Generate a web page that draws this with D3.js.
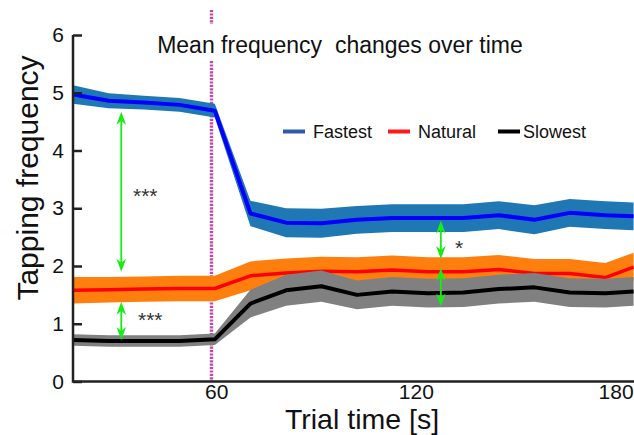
<!DOCTYPE html>
<html>
<head>
<meta charset="utf-8">
<script src="https://cdn.jsdelivr.net/npm/d3@7"></script>
<style>
  html, body { margin: 0; padding: 0; background: #fff; }
  svg { display: block; font-family: "Liberation Sans", Arial, sans-serif; }
</style>
</head>
<body>
<svg id="chart" width="634" height="435"></svg>
<script>
// Trial time of each averaging window [s]
const times = [17, 27.7, 38.3, 49, 59.6, 70.3, 81, 91.6, 102.3, 112.9, 123.6, 134.3, 144.9, 155.6, 166.2, 176.9, 185.4];

// Mean tapping frequency and its error band per condition
const fastestMean = [4.97, 4.86, 4.83, 4.79, 4.69, 2.91, 2.75, 2.74, 2.80, 2.83, 2.83, 2.83, 2.88, 2.80, 2.92, 2.88, 2.86];
const fastestErr  = [0.16, 0.13, 0.12, 0.12, 0.12, 0.22, 0.25, 0.25, 0.24, 0.24, 0.24, 0.24, 0.24, 0.25, 0.24, 0.24, 0.24];
const naturalMean = [1.58, 1.59, 1.60, 1.61, 1.61, 1.83, 1.88, 1.91, 1.90, 1.93, 1.90, 1.90, 1.94, 1.87, 1.87, 1.80, 1.98];
const naturalErr  = [0.23, 0.22, 0.22, 0.22, 0.22, 0.25, 0.25, 0.25, 0.25, 0.25, 0.25, 0.25, 0.25, 0.25, 0.25, 0.25, 0.25];
const slowestMean = [0.72, 0.70, 0.70, 0.70, 0.73, 1.35, 1.58, 1.65, 1.50, 1.56, 1.53, 1.54, 1.60, 1.63, 1.54, 1.53, 1.56];
const slowestErr  = [0.10, 0.10, 0.10, 0.10, 0.10, 0.24, 0.27, 0.27, 0.25, 0.25, 0.25, 0.25, 0.25, 0.25, 0.25, 0.25, 0.25];

const seriesNames = ["Fastest", "Natural", "Slowest"];
const yTicks = [0, 1, 2, 3, 4, 5, 6];
const xTicks = [60, 120, 180];
const switchTime = 58.6;
const titleText = "Mean frequency  changes over time";

// Significance brackets: time, from value, to value, label
const sigTimes  = [31.5, 31.5, 127.5, 127.5];
const sigFrom   = [4.67, 1.38, 2.79, 1.96];
const sigTo     = [1.90, 0.72, 2.12, 1.30];
const sigLabels = ["***", "***", "*", ""];

const svg = d3.select("#chart");
const x = d3.scaleLinear().domain([17, 185.4]).range([73, 633.6]);
const y = d3.scaleLinear().domain([0, 6]).range([381.5, 35]);

const styles = {
  Fastest: { band: "#1f77b4", line: "#0000ff", width: 4, legend: "#2a5caa" },
  Natural: { band: "#ff7f0e", line: "#ff0000", width: 3.5, legend: "#ff1a1a" },
  Slowest: { band: "#808080", line: "#000000", width: 4, legend: "#000000" }
};

const table = seriesNames.map((name, k) => {
  const m = [fastestMean, naturalMean, slowestMean][k];
  const e = [fastestErr, naturalErr, slowestErr][k];
  return { name, rows: times.map((t, i) => ({ t, m: m[i], e: e[i] })) };
});

svg.append("defs").append("clipPath").attr("id", "plotClip")
  .append("rect").attr("x", 73).attr("y", 0).attr("width", 561).attr("height", 382);

// Time of the pace change
svg.append("line")
  .attr("x1", x(switchTime)).attr("x2", x(switchTime))
  .attr("y1", 10).attr("y2", y(0))
  .attr("stroke", "#c04aa5").attr("stroke-width", 3.4)
  .attr("stroke-dasharray", "2.2,1.2");

const plot = svg.append("g").attr("clip-path", "url(#plotClip)");
const area = d3.area().x(d => x(d.t)).y0(d => y(d.m - d.e)).y1(d => y(d.m + d.e));
const line = d3.line().x(d => x(d.t)).y(d => y(d.m));

table.forEach(s => {
  const st = styles[s.name];
  plot.append("path").datum(s.rows).attr("d", area).attr("fill", st.band);
  plot.append("path").datum(s.rows).attr("d", line)
    .attr("fill", "none").attr("stroke", st.line).attr("stroke-width", st.width)
    .attr("stroke-linejoin", "round");
});

// Axes
const yAxis = d3.axisLeft(y).tickValues(yTicks).tickFormat(d3.format("d"))
  .tickSizeInner(-9).tickSizeOuter(0).tickPadding(9);
const gy = svg.append("g").attr("transform", "translate(73,0)").call(yAxis);
const xAxis = d3.axisBottom(x).tickValues(xTicks).tickFormat(d3.format("d"))
  .tickSizeInner(0).tickSizeOuter(0).tickPadding(3);
const gx = svg.append("g").attr("transform", `translate(0,${y(0)})`).call(xAxis);
[gx, gy].forEach(g => {
  g.select(".domain").attr("stroke", "#222").attr("stroke-width", 2.5);
  g.selectAll(".tick line").attr("stroke", "#222").attr("stroke-width", 2.5);
  g.selectAll(".tick text").attr("fill", "#111").style("font-size", "21px");
});
gx.select(".domain").attr("d", `M73,0H634`);
gy.select(".domain").attr("d", `M0,${y(6)}V${y(0) + 1.2}`);

// Title with a white backing box
svg.append("rect").attr("x", 150).attr("y", 24).attr("width", 380).attr("height", 37).attr("fill", "#fff");
svg.append("text").attr("x", 340).attr("y", 53).attr("text-anchor", "middle")
  .style("font-size", "23px").style("white-space", "pre").attr("fill", "#111")
  .text(titleText);

// Axis titles
svg.append("text").attr("x", 362).attr("y", 429).attr("text-anchor", "middle")
  .style("font-size", "28.5px").attr("fill", "#111").text("Trial time [s]");
svg.append("text").attr("transform", "translate(38,178) rotate(-90)").attr("text-anchor", "middle")
  .style("font-size", "30px").attr("fill", "#111").text("Tapping frequency");

// Legend
const legendX = [283, 388, 498];
const legend = svg.append("g");
seriesNames.forEach((name, i) => {
  legend.append("line").attr("x1", legendX[i]).attr("x2", legendX[i] + 22)
    .attr("y1", 131.5).attr("y2", 131.5)
    .attr("stroke", styles[name].legend).attr("stroke-width", 4);
  legend.append("text").attr("x", legendX[i] + (i === 2 ? 25 : 30)).attr("y", 138)
    .style("font-size", "18px").attr("fill", "#111").text(name);
});

// Significance arrows
const green = "#14ee14";
function head(px, py, dir) {
  // dir = -1 points up, +1 points down
  const L = 13, W = 4.8, notch = 4;
  return `M${px},${py} L${px - W},${py - dir * L} L${px},${py - dir * (L - notch)} L${px + W},${py - dir * L} Z`;
}
const arrows = svg.append("g");
sigTimes.forEach((t, i) => {
  const ax = x(t), yTop = y(sigFrom[i]), yBot = y(sigTo[i]);
  arrows.append("line").attr("x1", ax).attr("x2", ax).attr("y1", yTop + 4).attr("y2", yBot - 4)
    .attr("stroke", green).attr("stroke-width", 1.8);
  arrows.append("path").attr("d", head(ax, yTop, -1)).attr("fill", green);
  arrows.append("path").attr("d", head(ax, yBot, 1)).attr("fill", green);
});
const labelPos = [[133, 203], [138, 327], [455, 255]];
sigLabels.forEach((lab, i) => {
  if (!lab) return;
  svg.append("text").attr("x", labelPos[i][0]).attr("y", labelPos[i][1])
    .style("font-size", "21px").attr("fill", "#333").text(lab);
});
</script>
</body>
</html>
